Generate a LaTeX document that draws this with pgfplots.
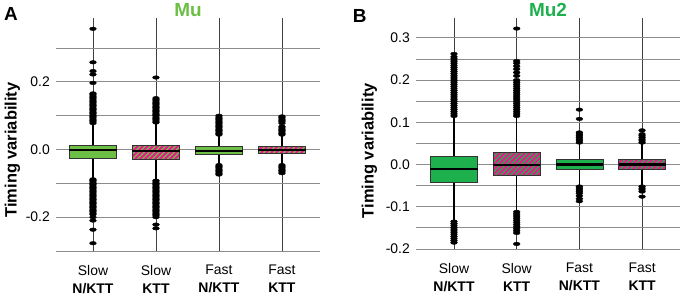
\documentclass[border=0pt]{standalone}
\usepackage{pgfplots}
\pgfplotsset{compat=1.18}
\usepgfplotslibrary{statistics}
\usetikzlibrary{patterns}
\usepackage{fontspec}
\setmainfont{Liberation Sans}
\definecolor{gA}{HTML}{6CBE45}
\definecolor{gB}{HTML}{1DB04D}
\definecolor{mag}{HTML}{EC168C}
\pgfdeclarepatternformonly{thickNE}{\pgfqpoint{0pt}{0pt}}{\pgfqpoint{5pt}{5pt}}{\pgfqpoint{5pt}{5pt}}{%
 \pgfsetlinewidth{2.1pt}%
 \pgfpathmoveto{\pgfqpoint{-1pt}{-1pt}}\pgfpathlineto{\pgfqpoint{6pt}{6pt}}%
 \pgfpathmoveto{\pgfqpoint{-1.5pt}{3.5pt}}\pgfpathlineto{\pgfqpoint{1.5pt}{6.5pt}}%
 \pgfpathmoveto{\pgfqpoint{3.5pt}{-1.5pt}}\pgfpathlineto{\pgfqpoint{6.5pt}{1.5pt}}%
 \pgfusepath{stroke}}
\pgfplotsset{
 panel/.style={
  scale only axis, width=264bp,
  axis line style={draw=none}, tick style={draw=none},
  xtick={1,2,3,4},
  xticklabels={{Slow\\\textbf{N/KTT}},{Slow\\\textbf{KTT}},{Fast\\\textbf{N/KTT}},{Fast\\\textbf{KTT}}},
  xmajorgrids, ymajorgrids,
  x grid style={black!75,line width=0.6pt},
  y grid style={black!45,line width=0.9pt},
  xticklabel style={font=\fontsize{14}{18}\selectfont, align=center, anchor=north, inner sep=0pt, yshift=-14bp},
  yticklabel style={font=\fontsize{14}{17}\selectfont, anchor=east, inner sep=0pt, xshift=-6bp},
  boxplot/draw direction=y,
  clip=false,
 },
 bx/.style={draw=black!80, line width=0.6pt,
  mark=*, mark size=1.8pt, mark options={draw=black, fill=black, xscale=1.9, line width=0.4pt},
  boxplot/every median/.style={line width=#1, draw=black},
  boxplot/every whisker/.style={line width=1.3pt, draw=black}},
 hatch/.style={boxplot/every box/.style={fill=#1, postaction={pattern=thickNE, pattern color=mag}}},
}
\begin{document}
\begin{tikzpicture}
\path[use as bounding box] (0,0) rectangle (680bp,299bp);
% ---------------- Panel A ----------------
\begin{axis}[panel, at={(56bp,48bp)}, anchor=south west, height=233bp,
  xmin=0.413, xmax=4.604, ymin=-0.3, ymax=0.389,
  ytick={-0.3,-0.2,-0.1,0,0.1,0.2,0.3},
  yticklabels={,-0.2,,0.0,,0.2,}]
\addplot+[bx=2pt, fill=gA, boxplot prepared={draw position=1, box extend=0.75, whisker extend=0,
  lower whisker=-0.086, lower quartile=-0.026, median=-0.002, upper quartile=0.014, upper whisker=0.074}]
 table[row sep=\\, y index=0] {
 0.078\\0.082\\0.086\\0.090\\0.094\\0.098\\0.102\\0.106\\0.110\\0.114\\0.118\\0.122\\0.126\\0.130\\0.134\\0.138\\0.142\\0.146\\0.150\\0.154\\0.158\\0.162\\0.166\\0.197\\0.222\\0.232\\0.258\\0.357\\
 -0.088\\-0.092\\-0.096\\-0.100\\-0.104\\-0.108\\-0.112\\-0.116\\-0.120\\-0.124\\-0.128\\-0.132\\-0.136\\-0.140\\-0.144\\-0.148\\-0.152\\-0.156\\-0.160\\-0.164\\-0.168\\-0.172\\-0.176\\-0.180\\-0.184\\-0.188\\-0.192\\-0.200\\-0.210\\-0.237\\-0.277\\
 };
\addplot+[bx=2pt, fill=gA, hatch=gA, boxplot prepared={draw position=2, box extend=0.75, whisker extend=0,
  lower whisker=-0.090, lower quartile=-0.028, median=-0.003, upper quartile=0.014, upper whisker=0.077}]
 table[row sep=\\, y index=0] {
 0.080\\0.084\\0.088\\0.092\\0.096\\0.100\\0.104\\0.108\\0.112\\0.116\\0.120\\0.124\\0.128\\0.132\\0.136\\0.140\\0.144\\0.148\\0.152\\0.213\\
 -0.092\\-0.096\\-0.100\\-0.104\\-0.108\\-0.112\\-0.116\\-0.120\\-0.124\\-0.128\\-0.132\\-0.136\\-0.140\\-0.144\\-0.148\\-0.152\\-0.156\\-0.160\\-0.164\\-0.168\\-0.172\\-0.176\\-0.180\\-0.184\\-0.188\\-0.192\\-0.196\\-0.200\\-0.222\\-0.233\\
 };
\addplot+[bx=2pt, fill=gA, boxplot prepared={draw position=3, box extend=0.75, whisker extend=0,
  lower whisker=-0.042, lower quartile=-0.013, median=-0.003, upper quartile=0.009, upper whisker=0.040}]
 table[row sep=\\, y index=0] {
 0.044\\0.048\\0.052\\0.056\\0.060\\0.064\\0.068\\0.072\\0.076\\0.080\\0.084\\0.088\\0.092\\0.096\\0.100\\
 -0.046\\-0.050\\-0.054\\-0.058\\-0.062\\-0.066\\-0.070\\-0.074\\
 };
\addplot+[bx=2pt, fill=gA, hatch=gA, boxplot prepared={draw position=4, box extend=0.75, whisker extend=0,
  lower whisker=-0.042, lower quartile=-0.012, median=-0.002, upper quartile=0.010, upper whisker=0.040}]
 table[row sep=\\, y index=0] {
 0.044\\0.048\\0.052\\0.056\\0.060\\0.064\\0.068\\0.078\\0.082\\0.086\\0.090\\0.094\\0.098\\
 -0.046\\-0.050\\-0.054\\-0.058\\-0.062\\-0.066\\-0.070\\
 };
\end{axis}
% ---------------- Panel B ----------------
\begin{axis}[panel, at={(416bp,50bp)}, anchor=south west, height=231bp,
  xmin=0.394, xmax=4.605, ymin=-0.2, ymax=0.347,
  ytick={-0.2,-0.15,-0.1,-0.05,0,0.05,0.1,0.15,0.2,0.25,0.3},
  yticklabels={-0.2,,-0.1,,0.0,,0.1,,0.2,,0.3}]
\addplot+[bx=2.6pt, fill=gB, boxplot prepared={draw position=1, box extend=0.75, whisker extend=0,
  lower whisker=-0.132, lower quartile=-0.042, median=-0.011, upper quartile=0.020, upper whisker=0.113}]
 table[row sep=\\, y index=0] {
 0.115\\0.120\\0.125\\0.130\\0.135\\0.140\\0.145\\0.150\\0.155\\0.160\\0.165\\0.170\\0.175\\0.180\\0.185\\0.190\\0.195\\0.200\\0.205\\0.210\\0.215\\0.220\\0.225\\0.230\\0.235\\0.240\\0.245\\0.250\\0.255\\0.262\\
 -0.135\\-0.140\\-0.145\\-0.150\\-0.155\\-0.160\\-0.165\\-0.170\\-0.175\\-0.180\\-0.185\\
 };
\addplot+[bx=2.6pt, fill=gB, hatch=gB, boxplot prepared={draw position=2, box extend=0.75, whisker extend=0,
  lower whisker=-0.108, lower quartile=-0.025, median=-0.001, upper quartile=0.028, upper whisker=0.113}]
 table[row sep=\\, y index=0] {
 0.115\\0.120\\0.125\\0.130\\0.135\\0.140\\0.145\\0.150\\0.155\\0.160\\0.165\\0.170\\0.175\\0.180\\0.185\\0.190\\0.195\\0.200\\0.210\\0.218\\0.226\\0.233\\0.240\\0.245\\0.322\\
 -0.112\\-0.117\\-0.122\\-0.127\\-0.132\\-0.137\\-0.142\\-0.147\\-0.152\\-0.157\\-0.162\\-0.188\\
 };
\addplot+[bx=2.6pt, fill=gB, boxplot prepared={draw position=3, box extend=0.75, whisker extend=0,
  lower whisker=-0.048, lower quartile=-0.012, median=0.000, upper quartile=0.013, upper whisker=0.050}]
 table[row sep=\\, y index=0] {
 0.052\\0.056\\0.060\\0.064\\0.068\\0.072\\0.076\\0.108\\0.130\\
 -0.052\\-0.056\\-0.060\\-0.064\\-0.068\\-0.074\\-0.081\\-0.087\\
 };
\addplot+[bx=2.6pt, fill=gB, hatch=gB, boxplot prepared={draw position=4, box extend=0.75, whisker extend=0,
  lower whisker=-0.048, lower quartile=-0.012, median=0.000, upper quartile=0.013, upper whisker=0.050}]
 table[row sep=\\, y index=0] {
 0.052\\0.056\\0.060\\0.064\\0.068\\0.072\\0.081\\
 -0.052\\-0.056\\-0.060\\-0.064\\-0.076\\
 };
\end{axis}
% titles, panel letters, y labels
\node[anchor=base, inner sep=0pt, text=gA, font=\bfseries\fontsize{19}{19}\selectfont] at (188bp,282bp) {Mu};
\node[anchor=base, inner sep=0pt, text=gB, font=\bfseries\fontsize{19}{19}\selectfont] at (548bp,282bp) {Mu2};
\node[anchor=base west, inner sep=0pt, font=\bfseries\fontsize{19}{19}\selectfont] at (4bp,278.3bp) {A};
\node[anchor=base west, inner sep=0pt, font=\bfseries\fontsize{19}{19}\selectfont] at (352.7bp,276.3bp) {B};
\node[rotate=90, inner sep=0pt, font=\bfseries\fontsize{16.5}{16.5}\selectfont] at (12.5bp,149bp) {Timing variability};
\node[rotate=90, inner sep=0pt, font=\bfseries\fontsize{16.5}{16.5}\selectfont] at (369.5bp,148.2bp) {Timing variability};
\end{tikzpicture}
\end{document}
